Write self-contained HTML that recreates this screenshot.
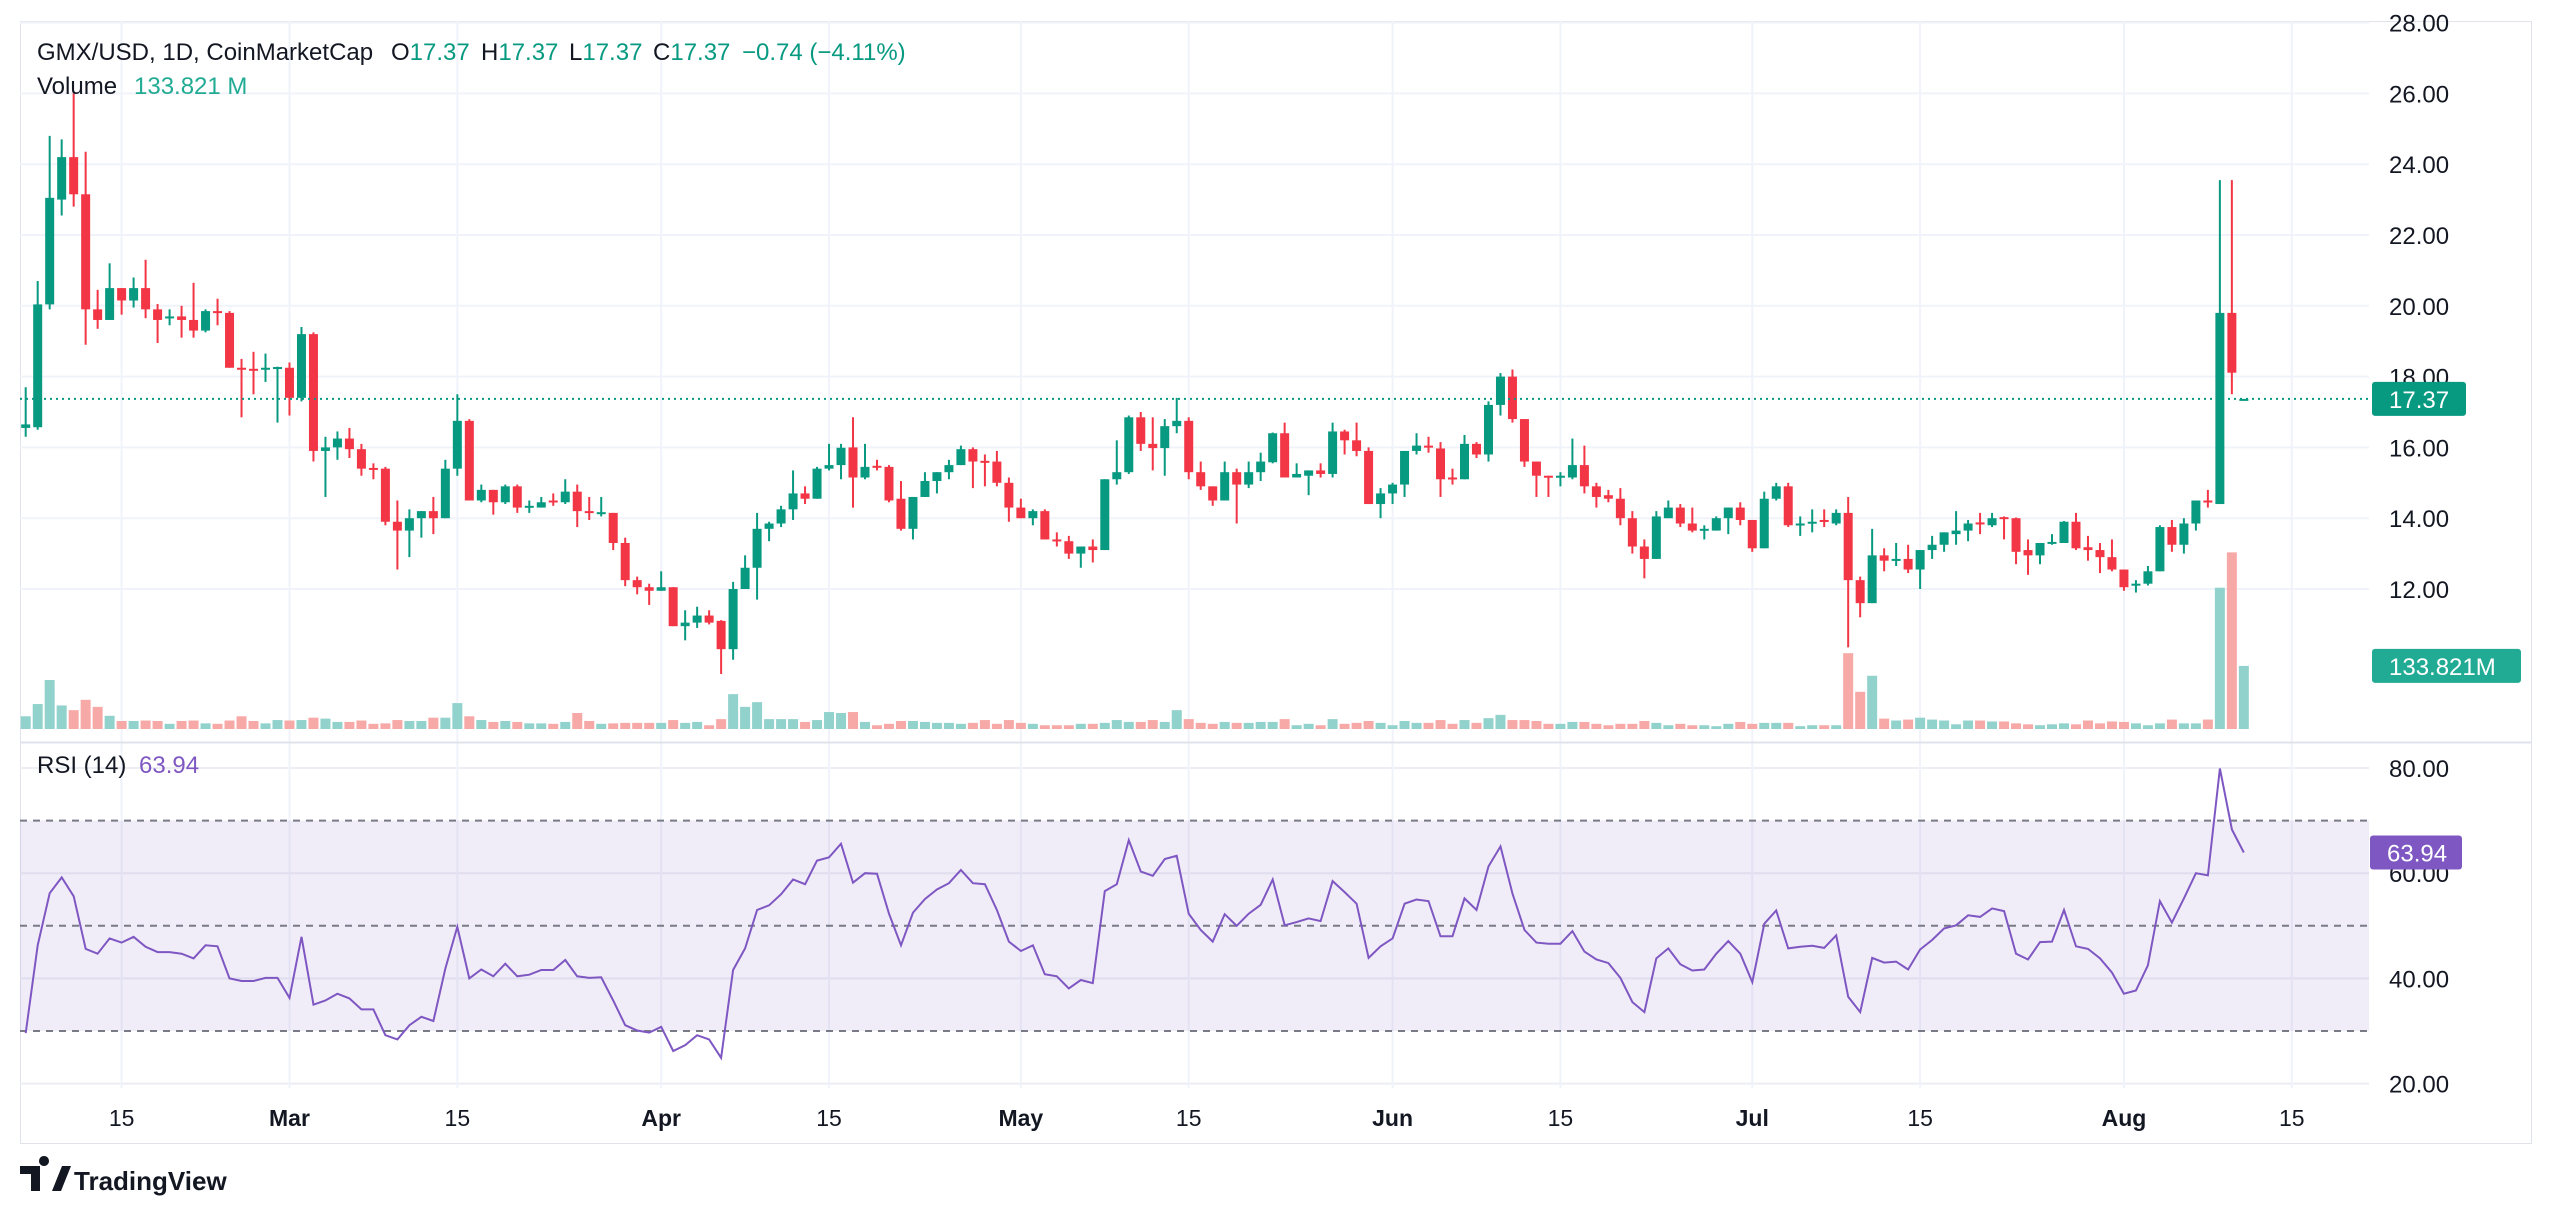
<!DOCTYPE html>
<html><head><meta charset="utf-8"><style>
html,body{margin:0;padding:0;background:#fff;}
svg{display:block;font-family:"Liberation Sans",sans-serif;}
</style></head><body>
<svg id="chart" width="2552" height="1214" viewBox="0 0 2552 1214" xmlns="http://www.w3.org/2000/svg">
<defs>
<clipPath id="mainClip"><rect x="20" y="21" width="2349" height="721"/></clipPath>
<clipPath id="rsiClip"><rect x="20" y="743" width="2349" height="345"/></clipPath>
</defs>
<rect x="0" y="0" width="2552" height="1214" fill="#fff"/>
<rect x="20.5" y="21.5" width="2511" height="1122" fill="none" stroke="#e0e3eb" stroke-width="1"/>
<g id="grid"></g>
<rect id="rsiBand" x="20" y="0" width="2349" height="0" fill="#7e57c2" fill-opacity="0.11"/>
<g id="rsiLines"></g>
<line x1="20" y1="742.5" x2="2531" y2="742.5" stroke="#e0e3eb" stroke-width="2"/>
<g id="volumes" clip-path="url(#mainClip)"></g>
<g id="candles" clip-path="url(#mainClip)"></g>
<line id="lastLine" x1="20" x2="2369" stroke="#089981" stroke-width="2" stroke-dasharray="2 4"/>
<g clip-path="url(#rsiClip)"><polyline id="rsiLine" fill="none" stroke="#7e57c2" stroke-width="2"/></g>
<g id="priceAxis" font-size="24" fill="#131722"></g>
<g id="rsiAxis" font-size="24" fill="#131722"></g>
<g id="timeAxis" font-size="23" fill="#131722"></g>
<g id="tags"></g>
<g font-size="24">
<text x="37" y="60" fill="#131722">GMX/USD, 1D, CoinMarketCap</text>
<text x="391" y="60" fill="#131722">O<tspan fill="#089981">17.37</tspan></text>
<text x="481" y="60" fill="#131722">H<tspan fill="#089981">17.37</tspan></text>
<text x="569" y="60" fill="#131722">L<tspan fill="#089981">17.37</tspan></text>
<text x="653" y="60" fill="#131722">C<tspan fill="#089981">17.37</tspan></text>
<text x="742" y="60" fill="#089981">−0.74 (−4.11%)</text>
<text x="37" y="94" fill="#131722">Volume</text>
<text x="134" y="94" fill="#22ab94">133.821 M</text>
<text x="37" y="773" fill="#131722">RSI (14)</text>
<text x="139" y="773" fill="#7e57c2">63.94</text>
</g>
<g>
<path d="M20 1166 h20 v25 h-9 v-17 h-11 z M44 1166 a5 5 0 1 1 0.01 0 z M52 1191 l10 -25 h9 l-10 25 z" fill="#131722"/>
<text x="74" y="1190" font-size="26" font-weight="bold" fill="#131722">TradingView</text>
</g>
</svg>
<script>
const opens=[16.55,16.57,20.04,23.0,24.2,23.15,19.9,19.6,20.5,20.15,20.5,19.9,19.65,19.7,19.6,19.3,19.85,19.8,18.25,18.22,18.2,18.25,18.25,17.4,19.2,15.9,16.0,16.25,15.95,15.42,15.4,13.9,13.65,14.0,14.2,14.0,15.4,16.75,14.5,14.8,14.45,14.9,14.3,14.3,14.5,14.45,14.75,14.2,14.13,14.15,
13.3,12.25,12.05,11.95,12.05,10.95,11.05,11.25,11.1,10.3,12.0,12.6,13.7,13.85,14.25,14.7,14.55,15.4,15.5,16.0,15.15,15.48,15.45,14.55,13.7,14.6,15.05,15.3,15.5,15.95,15.62,15.6,15.0,14.3,14.0,14.2,13.4,13.35,13.0,13.2,13.1,15.1,15.3,16.85,16.1,15.98,16.6,16.75,15.3,14.9,
14.5,15.3,14.95,15.3,15.58,16.4,15.15,15.2,15.35,15.25,16.45,16.2,15.9,14.4,14.7,14.95,15.9,16.05,15.97,15.15,15.1,16.1,15.8,17.2,18.0,16.8,15.6,15.2,15.15,15.15,15.5,14.9,14.65,14.55,14.0,13.2,12.85,14.0,14.3,13.85,13.65,13.65,14.0,14.3,13.95,13.15,14.55,14.9,13.8,13.85,
13.95,13.85,14.15,12.25,11.6,12.95,12.8,12.85,12.55,13.1,13.25,13.55,13.65,13.88,13.8,14.03,14.0,13.1,12.95,13.28,13.3,13.9,13.18,13.1,12.9,12.55,12.1,12.15,12.5,13.75,13.25,13.85,14.5,14.4,19.8,17.37];
const highs=[17.7,20.7,24.8,24.7,26.0,24.35,20.45,21.2,20.5,20.8,21.3,20.05,19.9,20.0,20.65,19.9,20.2,19.85,18.5,18.7,18.65,18.28,18.4,19.4,19.25,16.3,16.45,16.55,16.1,15.55,15.45,14.5,14.25,14.2,14.6,15.65,17.5,16.8,14.95,14.8,14.95,14.95,14.5,14.6,14.7,15.1,14.95,14.6,14.6,14.15,
13.45,12.35,12.15,12.5,12.05,11.4,11.5,11.4,11.12,12.2,12.95,14.15,13.9,14.35,15.35,14.9,15.45,16.1,16.1,16.85,16.1,15.65,15.5,15.05,14.6,15.3,15.3,15.65,16.05,16.0,15.8,15.9,15.15,14.55,14.25,14.25,13.6,13.5,13.2,13.4,15.1,16.2,16.9,17.0,16.85,16.8,17.4,16.85,15.6,14.9,
15.6,15.4,15.6,15.85,16.42,16.7,15.55,15.35,15.55,16.7,16.5,16.7,16.0,14.85,15.0,15.9,16.4,16.3,16.15,15.4,16.35,16.15,17.3,18.1,18.2,16.8,15.6,15.2,15.3,16.25,16.05,15.0,14.8,14.85,14.2,13.4,14.2,14.5,14.4,14.3,13.8,14.05,14.3,14.45,13.95,14.75,15.0,15.0,14.05,14.25,
14.25,14.25,14.6,12.35,13.7,13.15,13.3,13.25,13.1,13.5,13.6,14.2,13.95,14.15,14.15,14.05,14.02,13.4,13.3,13.55,13.92,14.15,13.5,13.3,13.4,12.55,12.25,12.65,13.8,13.95,14.0,14.5,14.8,23.55,23.55,17.37];
const lows=[16.3,16.5,19.9,22.55,22.8,18.9,19.35,19.6,19.75,19.95,19.65,18.95,19.45,19.1,19.1,19.25,19.45,18.25,16.85,17.5,17.85,16.7,16.9,17.3,15.6,14.6,15.65,15.7,15.2,15.1,13.8,12.55,12.9,13.45,13.55,14.0,15.2,14.5,14.45,14.1,14.4,14.15,14.15,14.3,14.35,14.4,13.75,13.95,14.05,13.1,
12.08,11.85,11.55,11.95,10.95,10.55,10.9,11.0,9.6,10.0,12.0,11.7,13.35,13.75,13.95,14.4,14.55,15.35,15.1,14.3,15.1,15.35,14.45,13.65,13.4,14.6,14.7,15.1,15.5,14.85,14.9,14.9,13.9,14.0,13.8,13.4,13.2,12.85,12.6,12.75,13.1,14.95,15.25,15.9,15.35,15.2,16.4,15.1,14.8,14.35,
14.5,13.85,14.85,15.05,15.55,15.15,15.15,14.65,15.15,15.15,15.8,15.75,14.4,14.0,14.4,14.6,15.8,15.85,14.6,14.95,15.1,15.7,15.6,16.9,16.7,15.45,14.6,14.6,14.9,15.1,14.7,14.3,14.45,13.8,13.0,12.3,12.85,14.0,13.75,13.6,13.4,13.65,13.55,13.8,13.05,13.15,14.5,13.75,13.5,13.6,
13.75,13.8,10.35,11.2,11.6,12.5,12.65,12.45,12.0,12.85,13.05,13.25,13.35,13.55,13.75,13.4,12.7,12.4,12.7,13.25,13.3,13.1,12.8,12.45,12.5,11.95,11.9,12.1,12.5,13.05,13.0,13.65,14.3,14.4,17.5,17.37];
const closes=[16.65,20.04,23.05,24.2,23.15,19.9,19.6,20.5,20.15,20.5,19.9,19.6,19.7,19.6,19.3,19.85,19.8,18.25,18.2,18.18,18.25,18.27,17.4,19.2,15.9,16.0,16.25,15.95,15.4,15.38,13.9,13.65,14.0,14.2,14.0,15.4,16.75,14.5,14.8,14.45,14.9,14.3,14.35,14.45,14.45,14.75,14.2,14.15,14.17,13.3,
12.25,12.05,11.95,12.05,10.95,11.05,11.25,11.05,10.3,12.0,12.6,13.7,13.85,14.25,14.7,14.55,15.4,15.5,15.99,15.15,15.45,15.45,14.5,13.7,14.6,15.05,15.3,15.5,15.95,15.6,15.6,15.0,14.3,14.0,14.2,13.4,13.35,13.0,13.2,13.1,15.1,15.3,16.85,16.1,15.98,16.6,16.75,15.3,14.9,14.5,
15.3,14.95,15.3,15.6,16.4,15.15,15.25,15.35,15.25,16.45,16.2,15.9,14.4,14.7,14.95,15.9,16.05,16.02,15.1,15.1,16.1,15.8,17.2,18.0,16.8,15.6,15.2,15.18,15.2,15.5,14.9,14.6,14.55,14.0,13.2,12.85,14.05,14.3,13.85,13.65,13.7,14.0,14.3,13.95,13.15,14.55,14.9,13.8,13.85,13.9,
13.9,14.15,12.25,11.6,12.95,12.8,12.85,12.55,13.1,13.25,13.6,13.65,13.85,13.85,14.0,14.0,13.05,12.95,13.3,13.33,13.9,13.15,13.1,12.9,12.55,12.05,12.15,12.5,13.75,13.25,13.85,14.5,14.45,19.8,18.11,17.37];
const volumes=[27,53,104,50,40,62,47,28,
17,17,18,17,11,17,18,12,11,18,27,17,12,19,18,19,24,22,15,15,18,11,12,19,17,17,24,24,55,27,19,15,17,15,12,12,11,15,34,17,11,12,
13,13,13,13,19,13,15,8,21,74,47,57,21,21,21,15,19,36,34,36,15,8,11,17,17,15,13,13,11,13,19,11,19,13,11,8,8,8,11,11,13,19,15,15,19,15,40,21,13,11,
15,13,13,15,15,21,8,11,8,21,11,13,17,13,8,17,13,13,19,11,19,13,23,30,19,19,17,11,11,15,15,11,8,11,11,17,13,8,11,8,8,6,11,15,11,13,13,13,6,8,
8,8,161,79,113,22,18,20,24,20,18,10,18,18,16,16,12,10,8,10,12,10,18,12,16,15,12,8,12,20,12,12,20,300,375,134];
const rsiValues=[29.6,46.3,56.2,59.2,55.6,45.6,44.7,47.6,46.8,47.9,46,45,45,44.7,43.8,46.3,46.1,40,39.5,39.5,
40.1,40.1,36.3,47.9,35,35.8,37.1,36.2,34.1,34.1,29.2,28.4,31.1,32.7,31.9,41.9,49.8,40,41.7,40.4,
42.8,40.4,40.7,41.6,41.6,43.5,40.4,40.1,40.2,35.8,31.1,30.1,29.7,30.8,26.2,27.3,29.2,28.4,24.9,41.6,
45.7,53,53.9,56,58.8,57.9,62.4,63,65.6,58.2,60,59.9,52.3,46.3,52.5,55.1,56.9,58.1,60.6,58.1,
57.9,53,47,45.2,46.3,40.8,40.4,38.1,39.7,39.1,56.6,57.9,66.3,60.3,59.5,62.7,63.3,52.3,49.2,47,
52.2,50,52.3,54,58.8,50.1,50.7,51.4,50.9,58.5,56.4,54.2,43.9,46.1,47.6,54.2,55,54.7,48,48,
55.2,53,61.3,65.1,56.1,49.2,46.8,46.6,46.6,49,45.1,43.6,42.9,40.1,35.5,33.6,43.8,45.7,42.7,41.5,
41.7,44.7,47.1,44.7,39.3,50.4,52.9,45.7,46,46.2,45.8,48.2,36.5,33.6,43.9,43,43.2,41.7,45.5,47.3,
49.5,50.1,52,51.7,53.3,52.8,44.7,43.6,46.9,47,53,46.1,45.6,43.8,41.1,37.1,37.7,42.5,54.7,50.6,
55.2,60,59.6,79.9,68.3,63.94];
const priceTicks=[12,14,16,18,20,22,24,26,28];
const rsiTicks=[20,40,60,80];
const rsiLevels=[30,50,70];
const dateLabels=['15','Mar','15','Apr','15','May','15','Jun','15','Jul','15','Aug','15'];
const dateIndex=[8,22,36,53,67,83,97,114,128,144,158,175,189];
const lastPrice=17.37, lastVolumeLabel='133.821M', lastRsi=63.94;

const NS='http://www.w3.org/2000/svg';
const X0=25.7, STEP=11.99;
const xAt=i=>X0+i*STEP;
const yPrice=p=>589-(p-12)*35.4;
const yVol=v=>729-v*0.471;
const yRsi=r=>768+(80-r)*5.26;
function mk(tag,attrs,parent){const e=document.createElementNS(NS,tag);for(const k in attrs)e.setAttribute(k,attrs[k]);parent.appendChild(e);return e;}

const grid=document.getElementById('grid');
priceTicks.forEach(t=>{const l=mk('line',{x1:20,x2:2369,y1:yPrice(t),y2:yPrice(t),stroke:'#f0f3fa','stroke-width':2},grid);

});
rsiTicks.forEach(t=>{const l=mk('line',{x1:20,x2:2369,y1:yRsi(t),y2:yRsi(t),stroke:'#eceef4','stroke-width':2},grid);

});
dateIndex.forEach(i=>{const l=mk('line',{x1:xAt(i),x2:xAt(i),y1:21,y2:1088,stroke:'#f0f3fa','stroke-width':2},grid);

});

const band=document.getElementById('rsiBand');
band.setAttribute('y',yRsi(70));band.setAttribute('height',yRsi(30)-yRsi(70));
const rl=document.getElementById('rsiLines');
rsiLevels.forEach(v=>{const l=mk('line',{x1:20,x2:2369,y1:yRsi(v),y2:yRsi(v),stroke:'#787b86','stroke-width':2,'stroke-dasharray':'7 6'},rl);

});

const vg=document.getElementById('volumes');
volumes.forEach((v,i)=>{const up=closes[i]>=opens[i];
const r=mk('rect',{x:xAt(i)-5,y:yVol(v),width:10,height:729-yVol(v),fill:up?'#92d2cc':'#f7a9a7'},vg);

});

const cg=document.getElementById('candles');
opens.forEach((o,i)=>{const c=closes[i],up=c>=o,col=up?'#089981':'#f23645',x=xAt(i);
const g=mk('g',{},cg);


mk('line',{x1:x,x2:x,y1:yPrice(highs[i]),y2:yPrice(lows[i]),stroke:col,'stroke-width':2},g);
const top=yPrice(Math.max(o,c)),bot=yPrice(Math.min(o,c));
mk('rect',{x:x-4.5,y:top,width:9,height:Math.max(2,bot-top),fill:col},g);});

const ll=document.getElementById('lastLine');
ll.setAttribute('y1',yPrice(lastPrice));ll.setAttribute('y2',yPrice(lastPrice));

document.getElementById('rsiLine').setAttribute('points',rsiValues.map((r,i)=>xAt(i).toFixed(1)+','+yRsi(r).toFixed(1)).join(' '));

const pa=document.getElementById('priceAxis');
priceTicks.forEach(t=>{const e=mk('text',{x:2389,y:yPrice(t)+9},pa);e.textContent=t.toFixed(2);

});
const ra=document.getElementById('rsiAxis');
rsiTicks.forEach(t=>{const e=mk('text',{x:2389,y:yRsi(t)+9},ra);e.textContent=t.toFixed(2);

});
const ta=document.getElementById('timeAxis');
dateLabels.forEach((s,k)=>{const e=mk('text',{x:xAt(dateIndex[k]),y:1126,'text-anchor':'middle','font-weight':s==='15'?'normal':'bold'},ta);e.textContent=s;

});

const tags=document.getElementById('tags');
function tag(name,x,yc,w,color,txt){const g=mk('g',{},tags);


mk('rect',{x:x,y:yc-17,width:w,height:34,rx:3,fill:color},g);
const t=mk('text',{x:x+17,y:yc+9,'font-size':24,fill:'#fff'},g);t.textContent=txt;}
tag('last-price-tag',2372,yPrice(lastPrice),94,'#089981',lastPrice.toFixed(2));
tag('volume-tag',2372,yVol(volumes[volumes.length-1]),149,'#22ab94',lastVolumeLabel);
tag('rsi-tag',2370,yRsi(lastRsi),92,'#7e57c2',lastRsi.toFixed(2));
</script>
</body></html>
